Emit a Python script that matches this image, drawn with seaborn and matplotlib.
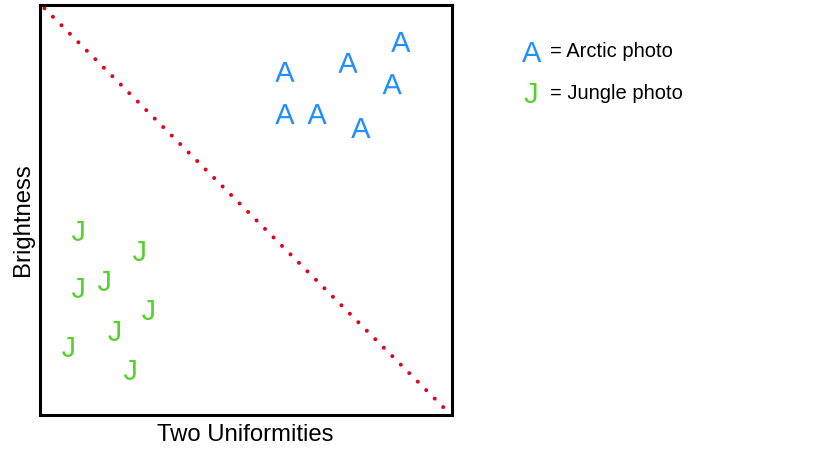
import pandas as pd
import matplotlib
matplotlib.use("Agg")
import matplotlib.pyplot as plt
import seaborn as sns

# letter positions (axes run 0..100 both ways)
arctic_x = [59.5, 74.8, 87.6, 85.5, 59.5, 67.3, 77.9]
arctic_y = [83.7, 85.9, 91.0, 80.7, 73.4, 73.4, 70.0]
jungle_x = [9.3, 24.1, 9.3, 15.6, 26.3, 18.1, 6.9, 21.9]
jungle_y = [44.9, 40.0, 31.0, 32.7, 25.6, 20.5, 16.6, 11.0]

# dotted separating line
boundary_x = [1.2, 97.9]
boundary_y = [99.2, 1.9]

blue = "#1f8fff"
green = "#55d12e"
red = "#e3001b"

sns.set_style("white")
plt.rcParams["font.family"] = ["Liberation Sans", "DejaVu Sans"]
plt.rcParams["mathtext.fontset"] = "custom"
plt.rcParams["mathtext.sf"] = "Liberation Sans"
plt.rcParams["text.color"] = "black"
plt.rcParams["axes.labelcolor"] = "black"

df = pd.DataFrame({
    "x": arctic_x + jungle_x,
    "y": arctic_y + jungle_y,
    "kind": ["Arctic"] * len(arctic_x) + ["Jungle"] * len(jungle_x),
})
line_df = pd.DataFrame({"x": boundary_x, "y": boundary_y})

fig = plt.figure(figsize=(8.37, 4.56), dpi=100)
ax = fig.add_axes([0.0472, 0.0877, 0.4928, 0.8991])

sns.lineplot(data=line_df, x="x", y="y", ax=ax, color=red, linewidth=2.9,
             linestyle=(0, (0.001, 2.978)), dash_capstyle="round")
sns.scatterplot(data=df, x="x", y="y", hue="kind", style="kind",
                palette={"Arctic": blue, "Jungle": green},
                markers={"Arctic": r"$\mathsf{A}$", "Jungle": r"$\mathsf{J}$"},
                s=207, linewidth=0, legend=False, ax=ax)

ax.set_xlim(0, 100)
ax.set_ylim(0, 100)
ax.set_xticks([])
ax.set_yticks([])
for sp in ax.spines.values():
    sp.set_color("black")
    sp.set_linewidth(2.2)

ax.set_xlabel("Two Uniformities", fontsize=17.2)
ax.set_ylabel("Brightness", fontsize=17.2)
ax.xaxis.set_label_coords(0.5, -0.02)
ax.yaxis.set_label_coords(-0.0133, 0.478)

# key on the right
fig.text(531.7 / 837, 1 - 61.7 / 456, "A", color=blue, fontsize=21,
         ha="center", va="baseline")
fig.text(530.7 / 837, 1 - 103.3 / 456, "J", color=green, fontsize=21,
         ha="center", va="baseline")
fig.text(550 / 837, 1 - 57.3 / 456, "= Arctic photo", fontsize=14.5,
         ha="left", va="baseline")
fig.text(550 / 837, 1 - 99 / 456, "= Jungle photo", fontsize=14.5,
         ha="left", va="baseline")

fig.savefig("out.png", dpi=100)
